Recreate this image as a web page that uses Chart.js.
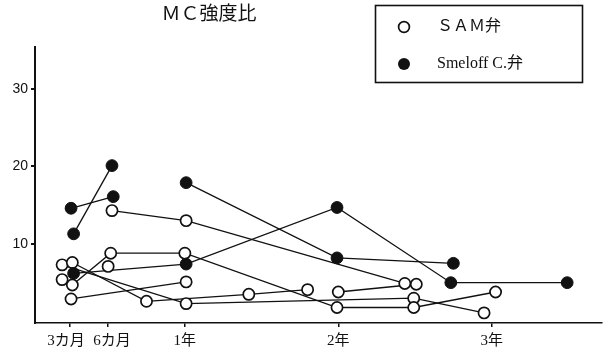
<!DOCTYPE html>
<html>
<head>
<meta charset="utf-8">
<script src="https://cdn.jsdelivr.net/npm/chart.js@4.4.1/dist/chart.umd.min.js"></script>
<style>
  html, body { margin: 0; padding: 0; background: #fff; }
  #wrap { width: 609px; height: 355px; }
</style>
</head>
<body>
<div id="wrap"><canvas id="c" width="609" height="355"></canvas></div>
<script>
// Axis ticks (months after surgery) and their labels
const tickMonths = [3, 6, 12, 24, 36];
const tickLabels = ['3カ月  ', '  6カ月', '1年', '2年', '3年'];
const yTicks = [10, 20, 30];

const chartTitle = 'ＭＣ強度比';
const legendLabels = ['ＳＡＭ弁', 'Smeloff C.弁'];

// SAM valve patients: follow-up month / MC intensity ratio
const sam1Months = [6.3, 12.1, 29.2];
const sam1Ratio  = [14.3, 13.0, 4.9];
const sam2Months = [3.2, 6.2, 12.0, 23.9, 29.9, 36.3];
const sam2Ratio  = [4.7, 8.8, 8.8, 1.8, 1.8, 3.8];
const sam3Months = [3.2, 9.0, 17.0, 21.6];
const sam3Ratio  = [7.6, 2.6, 3.5, 4.1];
const sam4Months = [2.4, 12.1, 29.9, 35.4];
const sam4Ratio  = [7.3, 2.3, 3.0, 1.1];
const sam5Months = [3.1, 12.1];
const sam5Ratio  = [2.9, 5.1];
const sam6Months = [24.0, 30.1];
const sam6Ratio  = [3.8, 4.8];
const sam7Months = [2.4];
const sam7Ratio  = [5.4];
const sam8Months = [6.0];
const sam8Ratio  = [7.1];

// Smeloff-Cutter valve patients
const sme1Months = [3.1, 6.4];
const sme1Ratio  = [14.6, 16.1];
const sme2Months = [3.3, 6.3];
const sme2Ratio  = [11.3, 20.1];
const sme3Months = [3.3, 12.1, 23.9, 32.8, 41.9];
const sme3Ratio  = [6.2, 7.4, 14.7, 5.0, 5.0];
const sme4Months = [12.1, 23.9, 33.0];
const sme4Ratio  = [17.9, 8.2, 7.5];

const samGroups = [
  [sam1Months, sam1Ratio], [sam2Months, sam2Ratio], [sam3Months, sam3Ratio],
  [sam4Months, sam4Ratio], [sam5Months, sam5Ratio], [sam6Months, sam6Ratio],
  [sam7Months, sam7Ratio], [sam8Months, sam8Ratio]
];
const smeGroups = [
  [sme1Months, sme1Ratio], [sme2Months, sme2Ratio],
  [sme3Months, sme3Ratio], [sme4Months, sme4Ratio]
];

const toPoints = (m, v) => m.map((x, i) => ({ x: x, y: v[i] }));

const datasets = [];
// connecting lines underneath
[...samGroups, ...smeGroups].forEach(([m, v]) => {
  datasets.push({
    data: toPoints(m, v), showLine: true, borderColor: '#111', borderWidth: 1.3,
    pointRadius: 0, order: 2, tension: 0
  });
});
// markers on top
samGroups.forEach(([m, v]) => {
  datasets.push({
    data: toPoints(m, v), showLine: false, pointRadius: 5.6, pointBorderWidth: 1.7,
    pointBackgroundColor: '#fff', pointBorderColor: '#111', order: 1
  });
});
smeGroups.forEach(([m, v]) => {
  datasets.push({
    data: toPoints(m, v), showLine: false, pointRadius: 5.9, pointBorderWidth: 1,
    pointBackgroundColor: '#111', pointBorderColor: '#111', order: 0
  });
});

const serifFont = '"Liberation Serif", "Noto Sans CJK JP", serif';

// Title and boxed key drawn on the canvas
const annotations = {
  id: 'annotations',
  afterDraw(chart) {
    const ctx = chart.ctx;
    ctx.save();
    ctx.fillStyle = '#111';
    ctx.textBaseline = 'middle';
    ctx.textAlign = 'center';
    ctx.font = '19px ' + serifFont;
    ctx.fillText(chartTitle, 209, 15);

    ctx.strokeStyle = '#111';
    ctx.lineWidth = 1.6;
    ctx.strokeRect(375.5, 5.5, 207, 77);

    ctx.lineWidth = 1.7;
    ctx.beginPath();
    ctx.arc(404, 27, 5.4, 0, Math.PI * 2);
    ctx.fillStyle = '#fff';
    ctx.fill();
    ctx.stroke();
    ctx.beginPath();
    ctx.arc(404, 64, 6, 0, Math.PI * 2);
    ctx.fillStyle = '#111';
    ctx.fill();

    ctx.textAlign = 'left';
    ctx.font = '16px ' + serifFont;
    ctx.fillText(legendLabels[0], 437, 27);
    ctx.font = '16px ' + serifFont;
    ctx.fillText(legendLabels[1], 437, 64);
    ctx.restore();
  }
};

new Chart(document.getElementById('c'), {
  type: 'line',
  data: { datasets: datasets },
  plugins: [annotations],
  options: {
    responsive: false,
    animation: false,
    layout: { padding: { top: 47, right: 4, left: 0, bottom: 0 } },
    plugins: { legend: { display: false }, tooltip: { enabled: false }, title: { display: false } },
    scales: {
      x: {
        type: 'linear', min: 0.28, max: 44.6,
        afterBuildTicks: s => { s.ticks = tickMonths.map(v => ({ value: v })); },
        afterFit: s => { s.height = 32; },
        grid: { display: true, drawOnChartArea: false, drawTicks: true, tickLength: 4, color: '#111', lineWidth: 1.5 },
        border: { display: true, color: '#111', width: 1.6 },
        ticks: {
          color: '#111', padding: 5, maxRotation: 0, autoSkip: false,
          font: { family: serifFont, size: 15 },
          callback: v => tickLabels[tickMonths.indexOf(v)]
        }
      },
      y: {
        type: 'linear', min: -0.2, max: 35.4,
        afterBuildTicks: s => { s.ticks = yTicks.map(v => ({ value: v })); },
        afterFit: s => { s.width = 35; },
        grid: { display: true, drawOnChartArea: false, drawTicks: true, tickLength: 4, color: '#111', lineWidth: 2 },
        border: { display: true, color: '#111', width: 2 },
        ticks: {
          color: '#111', padding: 3,
          font: { family: '"Liberation Sans", Arial, sans-serif', size: 14 }
        }
      }
    }
  }
});
</script>
</body>
</html>
